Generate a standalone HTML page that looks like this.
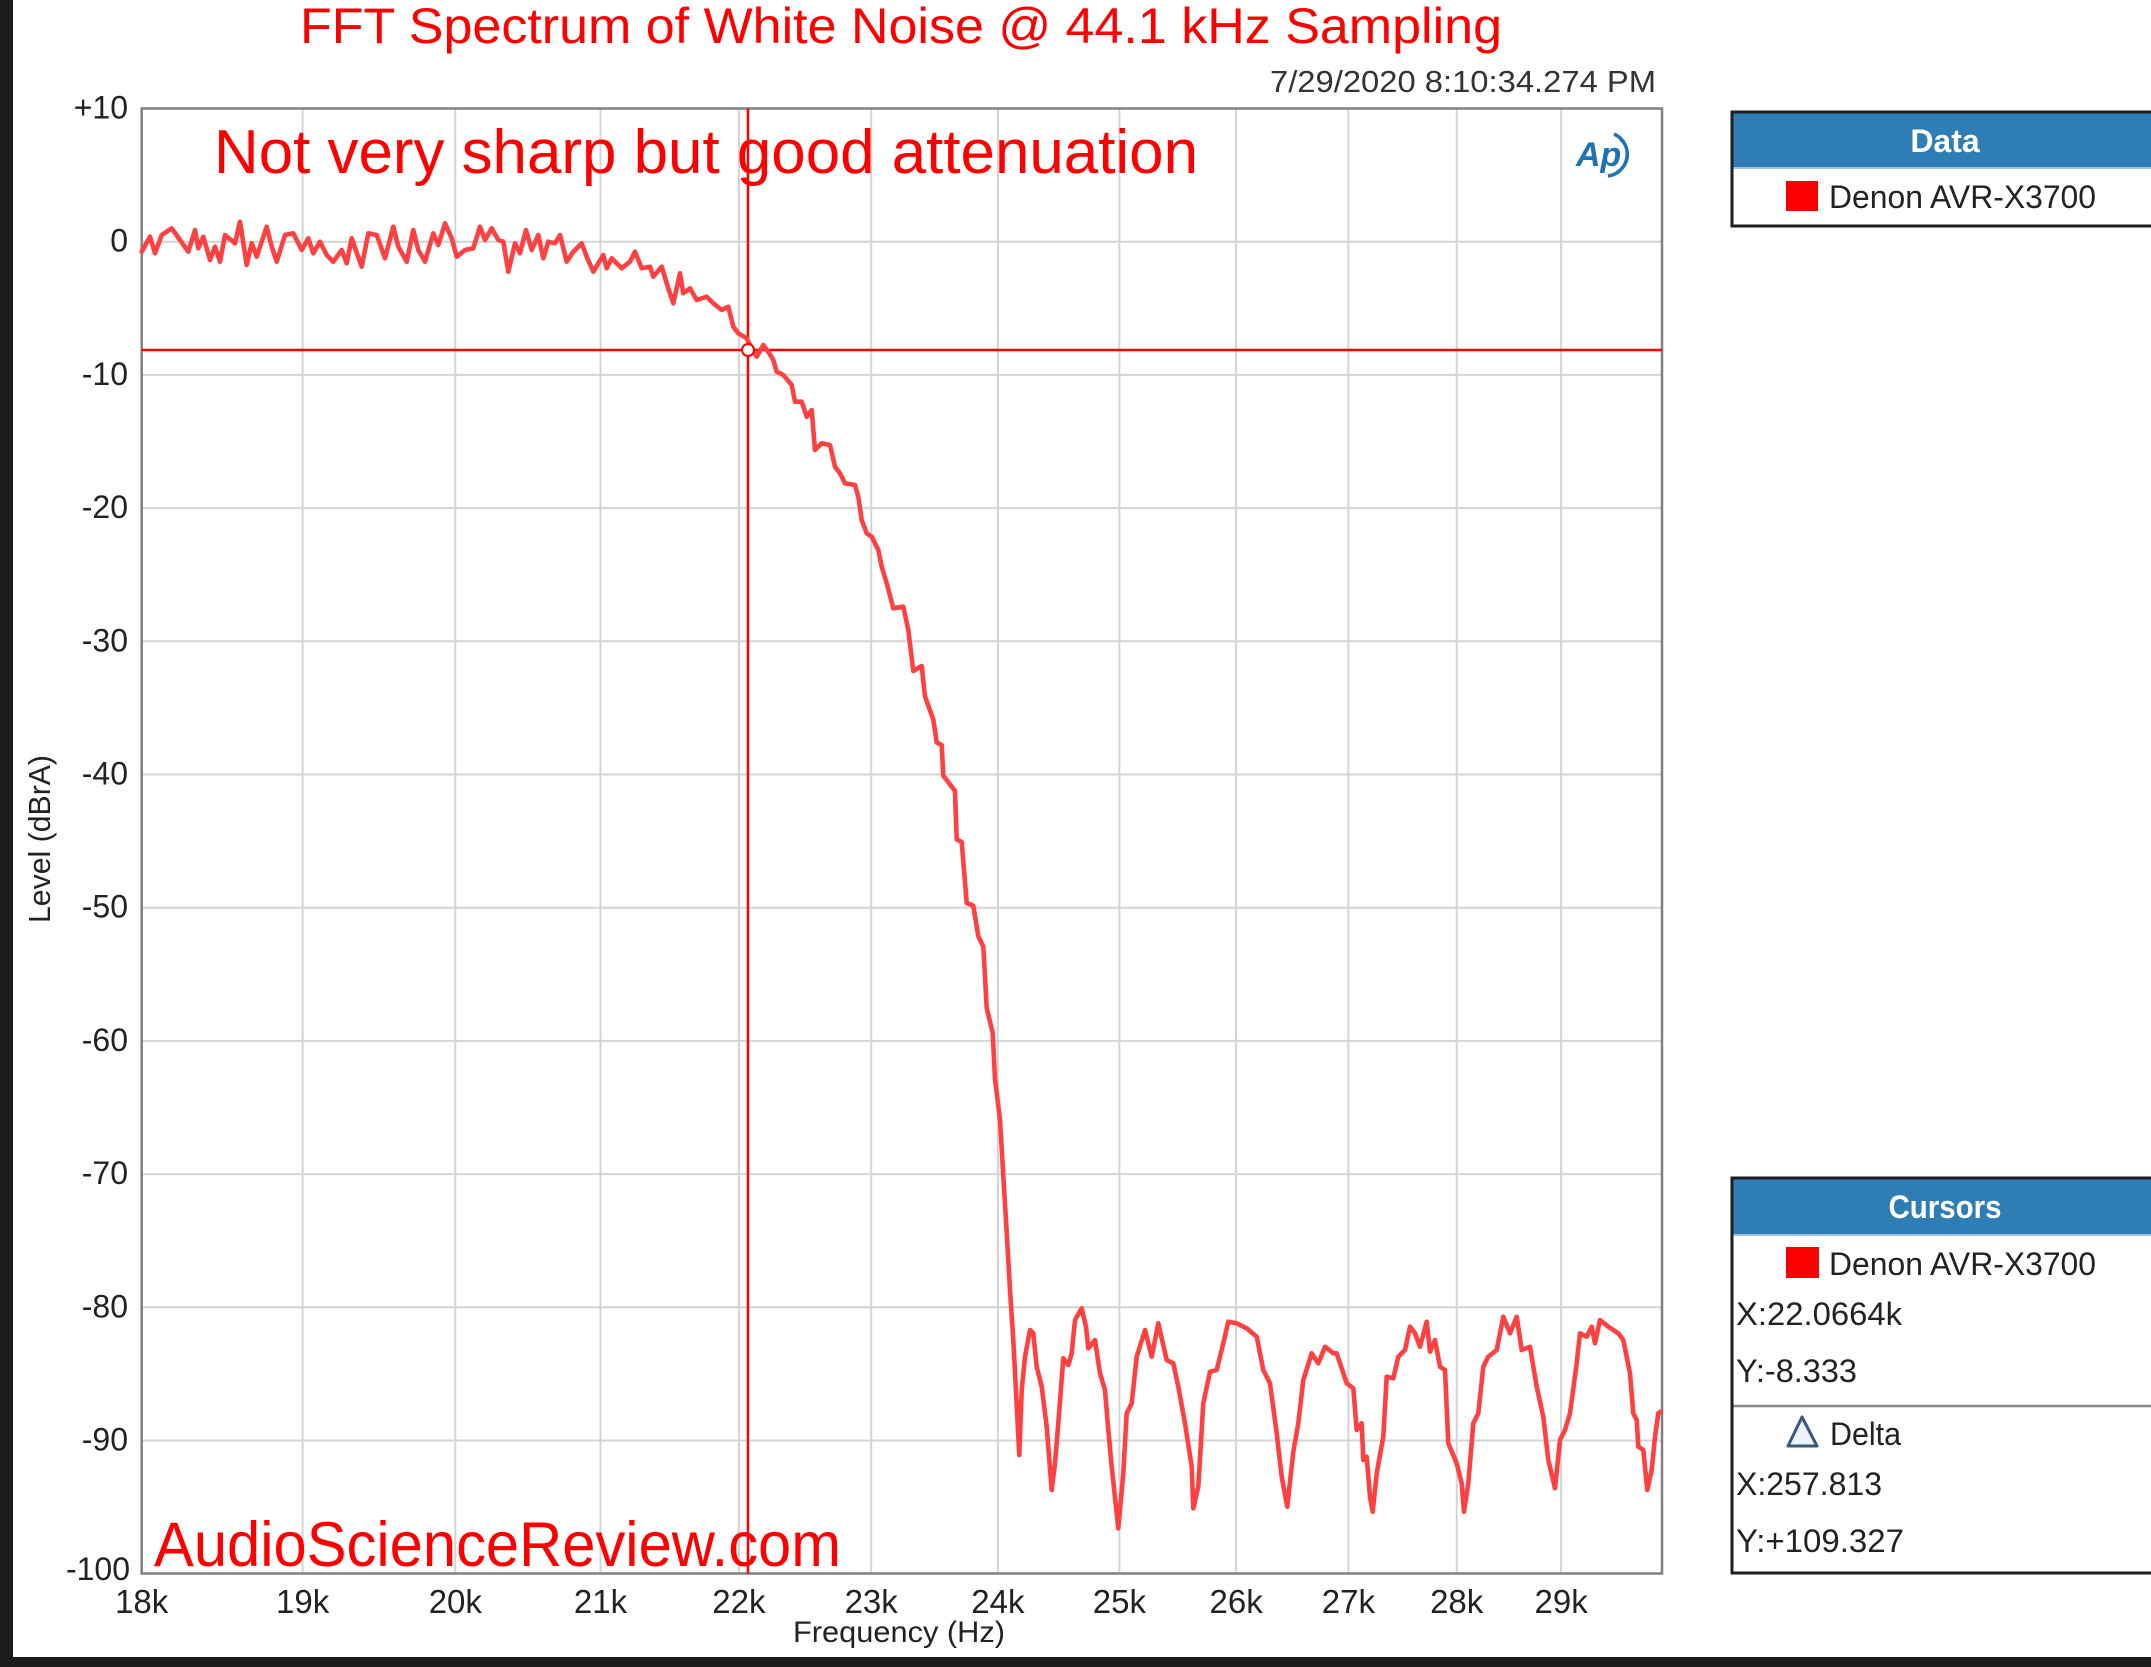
<!DOCTYPE html>
<html>
<head>
<meta charset="utf-8">
<style>
  html,body{margin:0;padding:0;background:#fff;}
  svg{display:block;}
  text{font-family:"Liberation Sans", Arial, sans-serif;}
</style>
</head>
<body>
<svg width="2151" height="1667" viewBox="0 0 2151 1667" xmlns="http://www.w3.org/2000/svg">
  <rect x="0" y="0" width="2151" height="1667" fill="#ffffff"/>

  <!-- grid -->
  <g stroke="#d4d4d4" stroke-width="2">
    <line x1="302.6" y1="108.5" x2="302.6" y2="1573.5"/>
    <line x1="455.3" y1="108.5" x2="455.3" y2="1573.5"/>
    <line x1="600.5" y1="108.5" x2="600.5" y2="1573.5"/>
    <line x1="738.9" y1="108.5" x2="738.9" y2="1573.5"/>
    <line x1="871.2" y1="108.5" x2="871.2" y2="1573.5"/>
    <line x1="997.9" y1="108.5" x2="997.9" y2="1573.5"/>
    <line x1="1119.4" y1="108.5" x2="1119.4" y2="1573.5"/>
    <line x1="1236.1" y1="108.5" x2="1236.1" y2="1573.5"/>
    <line x1="1348.4" y1="108.5" x2="1348.4" y2="1573.5"/>
    <line x1="1456.7" y1="108.5" x2="1456.7" y2="1573.5"/>
    <line x1="1561.1" y1="108.5" x2="1561.1" y2="1573.5"/>
    <line x1="141.7" y1="241.7" x2="1662" y2="241.7"/>
    <line x1="141.7" y1="374.9" x2="1662" y2="374.9"/>
    <line x1="141.7" y1="508.1" x2="1662" y2="508.1"/>
    <line x1="141.7" y1="641.3" x2="1662" y2="641.3"/>
    <line x1="141.7" y1="774.5" x2="1662" y2="774.5"/>
    <line x1="141.7" y1="907.7" x2="1662" y2="907.7"/>
    <line x1="141.7" y1="1040.9" x2="1662" y2="1040.9"/>
    <line x1="141.7" y1="1174.1" x2="1662" y2="1174.1"/>
    <line x1="141.7" y1="1307.3" x2="1662" y2="1307.3"/>
    <line x1="141.7" y1="1440.5" x2="1662" y2="1440.5"/>
  </g>

  <!-- plot border -->
  <rect x="141.7" y="108.5" width="1520.3" height="1465" fill="none" stroke="#808080" stroke-width="2.5"/>

  <!-- cursor lines -->
  <line x1="748" y1="108.5" x2="748" y2="1573.5" stroke="#ff0000" stroke-width="2.5"/>
  <line x1="141.7" y1="350" x2="1662" y2="350" stroke="#ff0000" stroke-width="2.5"/>

  <!-- data curve -->
  <polyline fill="none" stroke="#ff4040" stroke-width="4.6" stroke-linejoin="round" stroke-linecap="round" points="141.7,251.7 150,236.7 155,253.3 161.7,235 171.7,228.3 180,240 188.3,251.7 195,230 198.3,248.3 203.3,236.7 210,260 215,246.7 220,261.7 225,235 235,243.3 240,221.7 246.7,265 251.7,243.3 256.7,256.7 266.7,226.7 271.7,246.7 276.7,261.7 285,235 293.3,233.3 301.7,250 308.3,238.3 313.3,253.3 320,241.7 326.7,255 333.3,261.7 341.7,250 346.7,263.3 351.7,238.3 361.7,266.7 368.3,233.3 376.7,235 385,258.3 393.3,226.7 398.3,246.7 406.7,261.7 413.3,230 418.3,250 425,261.7 433.3,233.3 438.3,245 445,223.3 451.7,238.3 456.7,256.7 465,250 473.3,248.3 480,226.7 485,240 491.7,228.3 498.3,240 503.3,241.7 508.3,271.7 515,243.3 520,253.3 526,230 531.7,250 538.3,235 543.3,258.3 548.3,241.7 555,243.3 560,235 566.7,261.7 573.3,251.7 581.7,243.3 586.7,256.7 593.3,271.7 603.3,255 606.7,268.3 611.7,258.3 621.7,268.3 630,261.7 635,251.7 641.7,268.3 650,266.7 653.3,276.7 661.7,266.7 666.7,283.3 673.3,303.3 680,273.3 683.3,293.3 690,288.3 696.7,300 706.7,296.7 713.3,303.3 721.7,310 728.3,306.7 733.3,326.7 738.3,333.3 746.7,338.3 751.7,348.3 756.7,356.7 763.3,345 768.3,351.7 773.3,360 776.7,371.7 783.3,375 791.7,385 795,401.7 801.7,401.7 806.7,416.7 811.7,410 815,450 821.7,443.3 830,445 835,466.7 840,473.3 845,483.3 855,485 858.3,496.7 861.7,520 866.7,533.3 871.7,536.7 878.3,550 881.7,566.7 886.7,583.3 893.3,608.3 903.3,606.7 908.3,630 913.3,671 921.7,666 925,696.5 933.3,719.5 936.7,742.4 941.7,745 943.3,775.6 955,791 956.7,839.4 961.7,842 966.7,903 973.3,905.7 978.3,936.3 983.3,946.5 986.7,1007.8 992.7,1033 995,1079 1000,1120 1003.3,1176 1006.7,1232 1010,1290 1013.3,1340 1019.3,1455 1021.7,1390 1025,1356.7 1030,1330 1033.3,1333.3 1036.7,1366.7 1041.7,1386.7 1046.7,1426.7 1051.7,1490 1055,1463.3 1058.3,1423.3 1063.3,1358.3 1068.3,1365 1071.7,1353.3 1075,1320 1081.7,1308.3 1086,1326.7 1088.3,1348.3 1095,1340 1100,1373.3 1105,1390 1108.3,1430 1111.7,1466.7 1118.3,1528.3 1123.3,1473.3 1126.7,1413.3 1131.7,1403.3 1136.7,1356.7 1145,1330 1151.7,1356.7 1158.3,1323.3 1166.7,1360 1173.3,1363.3 1178.3,1386.7 1185,1423.3 1191.7,1466.7 1193.3,1508.3 1198.3,1486.7 1203.3,1403.3 1210,1371.7 1216.7,1370 1223.3,1343.3 1228.3,1321.7 1236.7,1323.3 1246.7,1328.3 1256.7,1336.7 1263.3,1370 1270,1383.3 1276.7,1433.3 1281.7,1476.7 1287.3,1506.7 1293.3,1451.7 1298.3,1423.3 1303.3,1380 1311.7,1353.3 1318.3,1363.3 1325,1346.7 1333.3,1353.3 1336.7,1353.3 1346.7,1383.3 1353.3,1388.3 1356.7,1430 1361.7,1423.3 1363.3,1460 1366.7,1456.7 1370,1496.7 1372.7,1511.7 1376.7,1473.3 1383.3,1436.7 1386.7,1376.7 1393.3,1378.3 1398.3,1356.7 1405,1350 1410,1326.7 1415,1333.3 1420,1346.7 1426.7,1321.7 1430,1351.7 1435,1340 1440,1366.7 1445,1370 1448.3,1443.3 1456.7,1463.3 1461.7,1483.3 1464,1511.7 1468.3,1483.3 1473.3,1423.3 1478.3,1413.3 1483.3,1366.7 1488.3,1356.7 1496.7,1350 1503.3,1316.7 1510,1333.3 1516.7,1316.7 1521.7,1350 1530,1346.7 1536.7,1386.7 1543.3,1416.7 1548.3,1460 1555,1488.3 1560,1440 1565,1430 1570,1413.3 1576.7,1363.3 1580,1333.3 1586.7,1336.7 1591.7,1326.7 1595,1343.3 1600,1320 1608.3,1326.7 1618.3,1333.3 1623.3,1340 1630,1373.3 1633.3,1413.3 1636.7,1420 1638.3,1446.7 1643.3,1450 1647.3,1490 1651.7,1470 1655,1436.7 1658.3,1413.3 1660.7,1411.7"/>

  <!-- cursor marker -->
  <circle cx="748" cy="350" r="6" fill="#ffffff" stroke="#ff0000" stroke-width="2"/>

  <!-- AP logo -->
  <text x="1576" y="166" font-size="34" font-weight="bold" font-style="italic" fill="#1f72b4">Ap</text>
  <path d="M1614,134 A 22 22 0 0 1 1608,176" fill="none" stroke="#1f72b4" stroke-width="3.5"/>
  <path d="M1620,140 A 18 18 0 0 1 1616,172" fill="none" stroke="#1f72b4" stroke-width="2"/>

  <!-- title & annotations -->
  <text x="300" y="43" font-size="50" fill="#ff0000" textLength="1202" lengthAdjust="spacingAndGlyphs">FFT Spectrum of White Noise @ 44.1 kHz Sampling</text>
  <text x="1270" y="92" font-size="31" fill="#333333" textLength="386" lengthAdjust="spacingAndGlyphs">7/29/2020 8:10:34.274 PM</text>
  <text x="214" y="173" font-size="62" fill="#ff0000" textLength="984" lengthAdjust="spacingAndGlyphs">Not very sharp but good attenuation</text>
  <text x="154" y="1566" font-size="63" fill="#ff0000" textLength="687" lengthAdjust="spacingAndGlyphs">AudioScienceReview.com</text>

  <!-- y tick labels -->
  <g font-size="32" fill="#222222" text-anchor="end">
    <text x="128" y="118.5">+10</text>
    <text x="128" y="251.7">0</text>
    <text x="128" y="384.9">-10</text>
    <text x="128" y="518.1">-20</text>
    <text x="128" y="651.3">-30</text>
    <text x="128" y="784.5">-40</text>
    <text x="128" y="917.7">-50</text>
    <text x="128" y="1050.9">-60</text>
    <text x="128" y="1184.1">-70</text>
    <text x="128" y="1317.3">-80</text>
    <text x="128" y="1450.5">-90</text>
    <text x="130" y="1580">-100</text>
  </g>

  <!-- x tick labels -->
  <g font-size="33" fill="#222222" text-anchor="middle">
    <text x="141.7" y="1613">18k</text>
    <text x="302.6" y="1613">19k</text>
    <text x="455.3" y="1613">20k</text>
    <text x="600.5" y="1613">21k</text>
    <text x="738.9" y="1613">22k</text>
    <text x="871.2" y="1613">23k</text>
    <text x="997.9" y="1613">24k</text>
    <text x="1119.4" y="1613">25k</text>
    <text x="1236.1" y="1613">26k</text>
    <text x="1348.4" y="1613">27k</text>
    <text x="1456.7" y="1613">28k</text>
    <text x="1561.1" y="1613">29k</text>
  </g>

  <!-- axis titles -->
  <text x="793" y="1642" font-size="30" fill="#222222" textLength="212" lengthAdjust="spacingAndGlyphs">Frequency (Hz)</text>
  <text transform="translate(50,923) rotate(-90)" x="0" y="0" font-size="31" fill="#222222" textLength="168" lengthAdjust="spacingAndGlyphs">Level (dBrA)</text>

  <!-- Data legend box -->
  <rect x="1732" y="112" width="440" height="114" fill="#ffffff" stroke="#1e1e1e" stroke-width="3"/>
  <rect x="1733.5" y="113.5" width="440" height="54" fill="#2e7db4"/>
  <line x1="1733.5" y1="168" x2="2151" y2="168" stroke="#9cc3e0" stroke-width="2"/>
  <text x="1945" y="152" font-size="32" font-weight="bold" fill="#ffffff" text-anchor="middle">Data</text>
  <rect x="1786" y="181" width="32" height="30" fill="#ff0000"/>
  <text x="1829" y="208" font-size="32" fill="#222222" textLength="267" lengthAdjust="spacingAndGlyphs">Denon AVR-X3700</text>

  <!-- Cursors legend box -->
  <rect x="1732" y="1178" width="440" height="395" fill="#ffffff" stroke="#1e1e1e" stroke-width="3"/>
  <rect x="1733.5" y="1179.5" width="440" height="55" fill="#2e7db4"/>
  <line x1="1733.5" y1="1235" x2="2151" y2="1235" stroke="#9cc3e0" stroke-width="2"/>
  <text x="1945" y="1218" font-size="32" font-weight="bold" fill="#ffffff" text-anchor="middle" textLength="113" lengthAdjust="spacingAndGlyphs">Cursors</text>
  <rect x="1786" y="1247" width="33" height="31" fill="#ff0000"/>
  <text x="1829" y="1275" font-size="32" fill="#222222" textLength="267" lengthAdjust="spacingAndGlyphs">Denon AVR-X3700</text>
  <text x="1736" y="1325" font-size="32" fill="#222222" textLength="166" lengthAdjust="spacingAndGlyphs">X:22.0664k</text>
  <text x="1736" y="1382" font-size="32" fill="#222222" textLength="121" lengthAdjust="spacingAndGlyphs">Y:-8.333</text>
  <line x1="1733.5" y1="1406" x2="2151" y2="1406" stroke="#8a8a8a" stroke-width="2.5"/>
  <polygon points="1802,1417 1788,1446 1817,1446" fill="#eaf2fa" stroke="#3a5878" stroke-width="3" stroke-linejoin="round"/>
  <text x="1830" y="1445" font-size="32" fill="#222222" textLength="71" lengthAdjust="spacingAndGlyphs">Delta</text>
  <text x="1736" y="1495" font-size="32" fill="#222222" textLength="146" lengthAdjust="spacingAndGlyphs">X:257.813</text>
  <text x="1736" y="1552" font-size="32" fill="#222222" textLength="168" lengthAdjust="spacingAndGlyphs">Y:+109.327</text>

  <!-- dark window edges -->
  <rect x="0" y="0" width="13" height="1667" fill="#1c1c1e"/>
  <rect x="0" y="1657" width="2151" height="10" fill="#1c1c1e"/>
</svg>
</body>
</html>
